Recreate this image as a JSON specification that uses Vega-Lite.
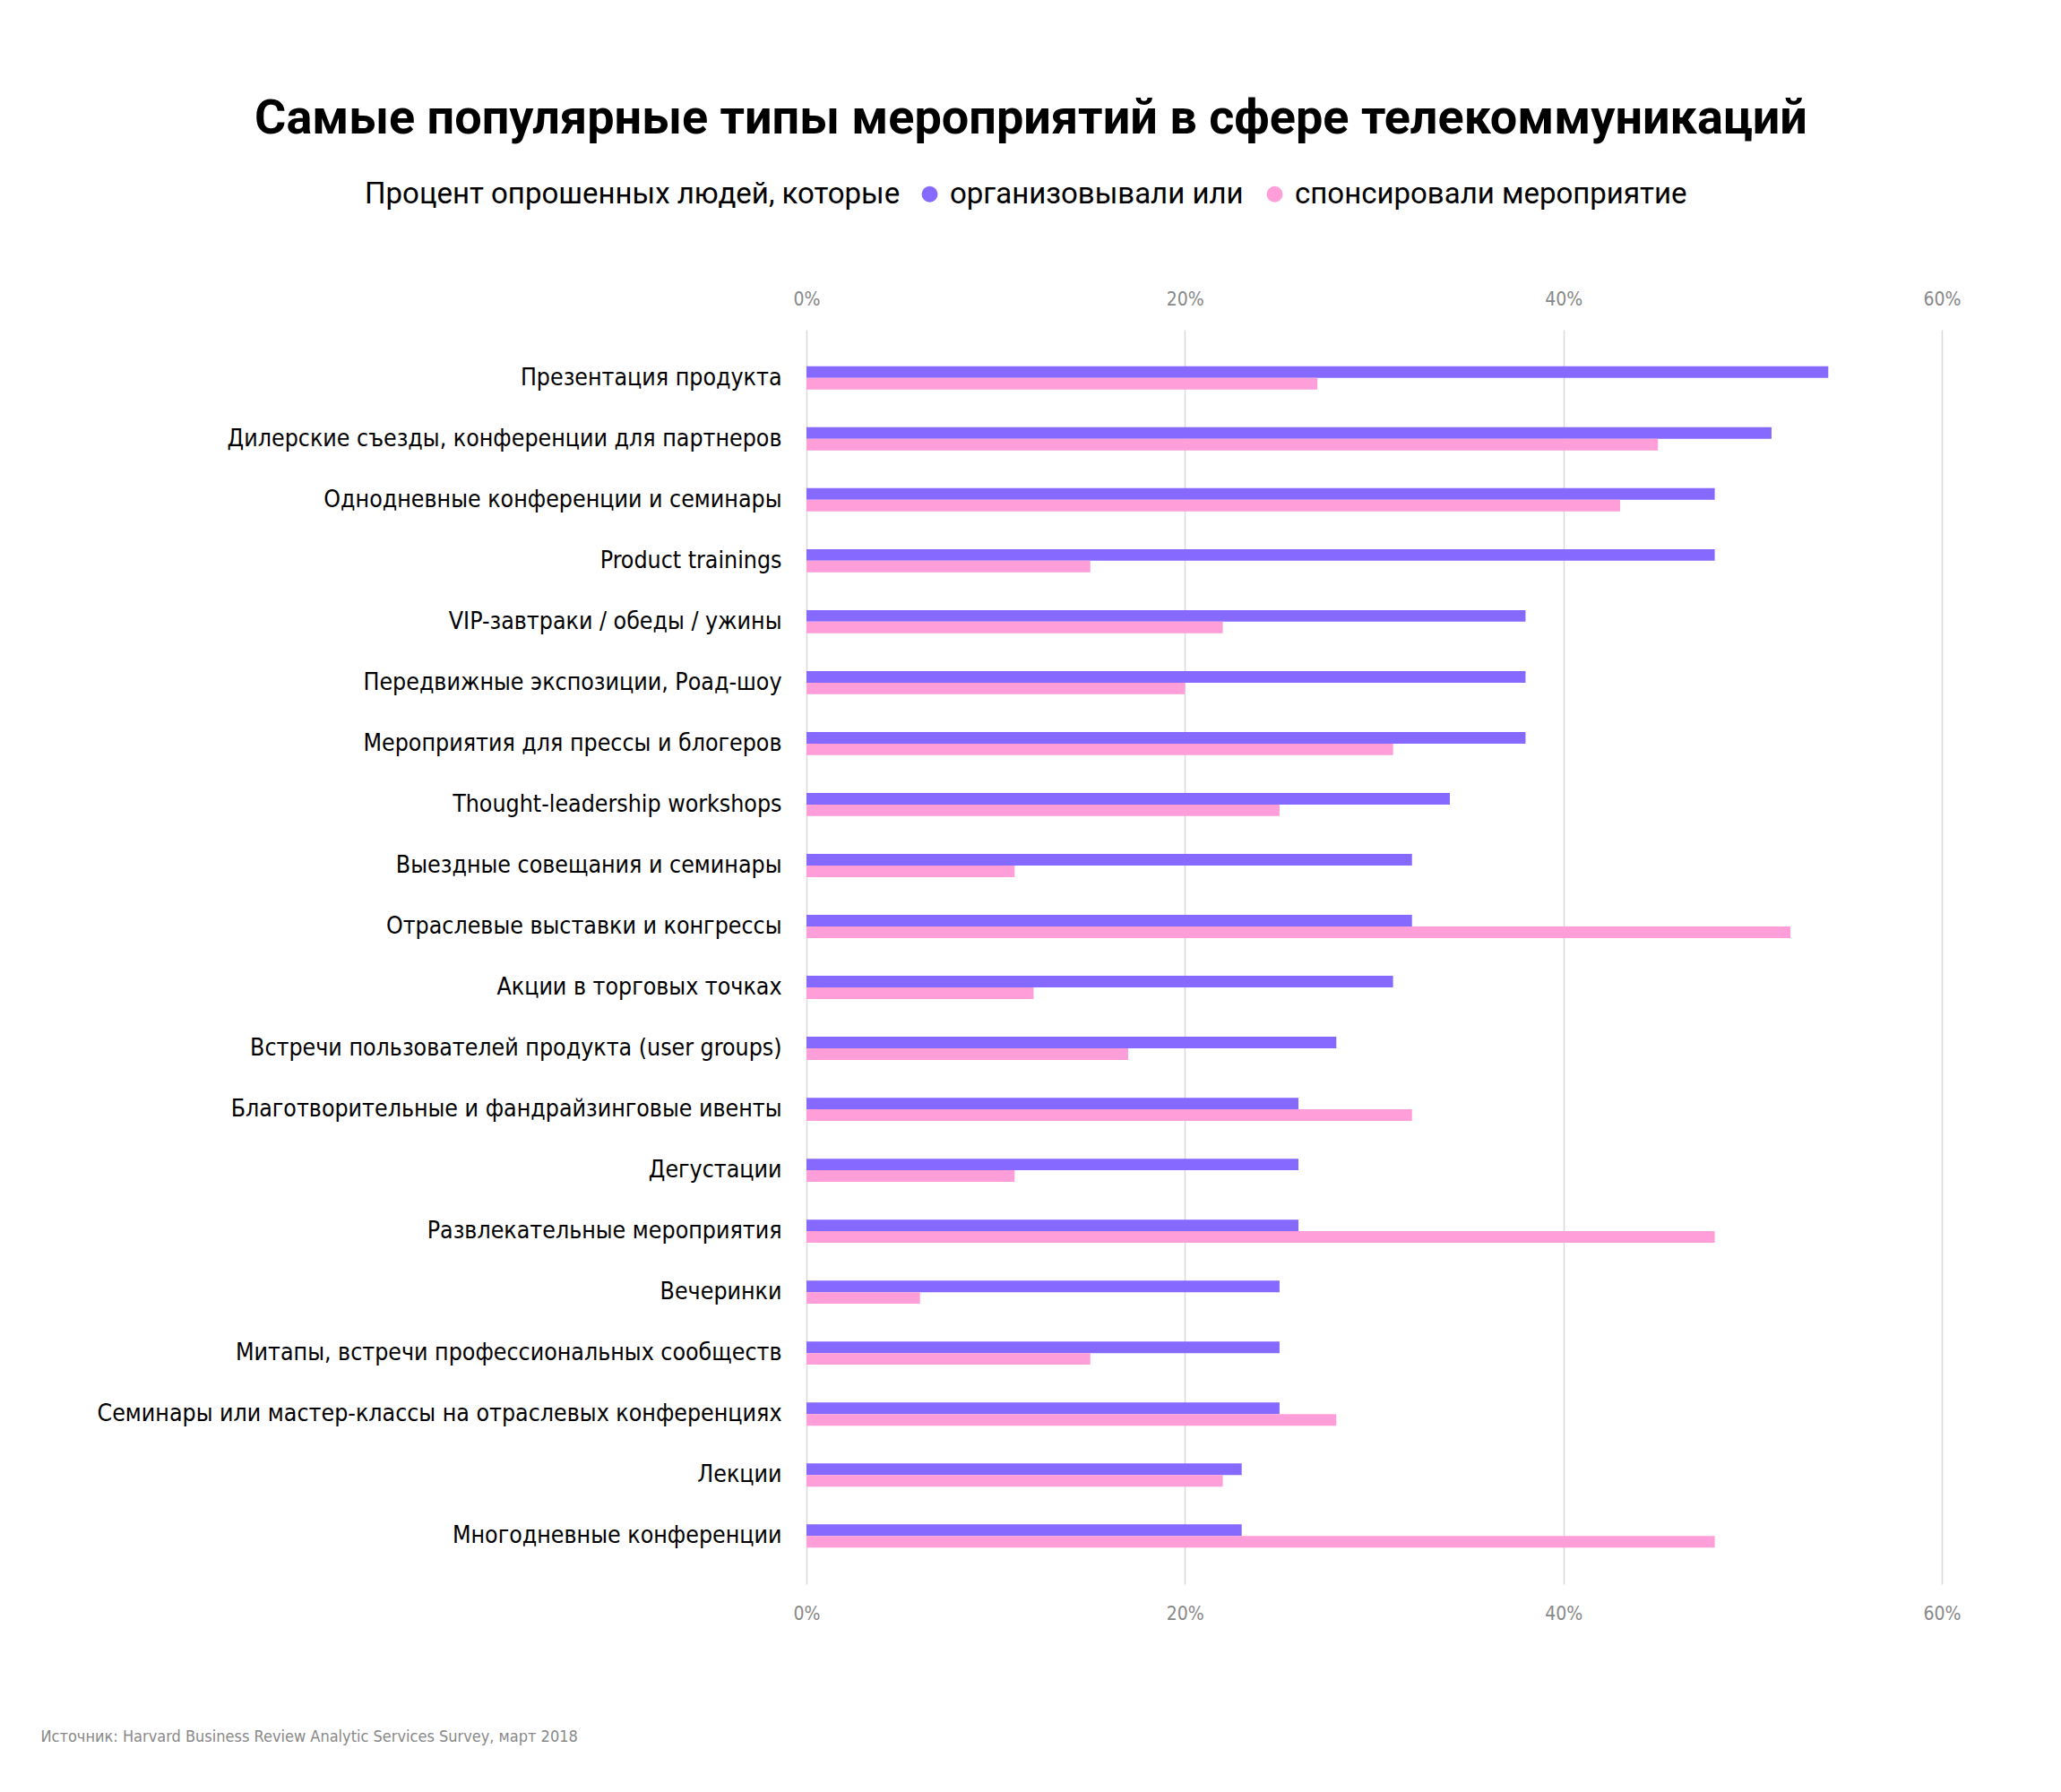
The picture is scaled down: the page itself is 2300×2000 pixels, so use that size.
{
  "$schema": "https://vega.github.io/schema/vega-lite/v6.json",
  "width": 1267,
  "height": 1400,
  "padding": {"left": 45, "top": 106, "right": 20, "bottom": 20},
  "background": "white",
  "title": {
    "text": "Самые популярные типы мероприятий в сфере телекоммуникаций",
    "anchor": "middle",
    "frame": "group",
    "dx": -383,
    "font": "Roboto",
    "fontSize": 54,
    "fontWeight": "bold",
    "color": "#000000",
    "offset": 40
  },
  "data": {
    "values": [
      {"event": "Презентация продукта", "type": "организовывали или", "value": 54},
      {"event": "Презентация продукта", "type": "спонсировали мероприятие", "value": 27},
      {"event": "Дилерские съезды, конференции для партнеров", "type": "организовывали или", "value": 51},
      {"event": "Дилерские съезды, конференции для партнеров", "type": "спонсировали мероприятие", "value": 45},
      {"event": "Однодневные конференции и семинары", "type": "организовывали или", "value": 48},
      {"event": "Однодневные конференции и семинары", "type": "спонсировали мероприятие", "value": 43},
      {"event": "Product trainings", "type": "организовывали или", "value": 48},
      {"event": "Product trainings", "type": "спонсировали мероприятие", "value": 15},
      {"event": "VIP-завтраки / обеды / ужины", "type": "организовывали или", "value": 38},
      {"event": "VIP-завтраки / обеды / ужины", "type": "спонсировали мероприятие", "value": 22},
      {"event": "Передвижные экспозиции, Роад-шоу", "type": "организовывали или", "value": 38},
      {"event": "Передвижные экспозиции, Роад-шоу", "type": "спонсировали мероприятие", "value": 20},
      {"event": "Мероприятия для прессы и блогеров", "type": "организовывали или", "value": 38},
      {"event": "Мероприятия для прессы и блогеров", "type": "спонсировали мероприятие", "value": 31},
      {"event": "Thought-leadership workshops", "type": "организовывали или", "value": 34},
      {"event": "Thought-leadership workshops", "type": "спонсировали мероприятие", "value": 25},
      {"event": "Выездные совещания и семинары", "type": "организовывали или", "value": 32},
      {"event": "Выездные совещания и семинары", "type": "спонсировали мероприятие", "value": 11},
      {"event": "Отраслевые выставки и конгрессы", "type": "организовывали или", "value": 32},
      {"event": "Отраслевые выставки и конгрессы", "type": "спонсировали мероприятие", "value": 52},
      {"event": "Акции в торговых точках", "type": "организовывали или", "value": 31},
      {"event": "Акции в торговых точках", "type": "спонсировали мероприятие", "value": 12},
      {"event": "Встречи пользователей продукта (user groups)", "type": "организовывали или", "value": 28},
      {"event": "Встречи пользователей продукта (user groups)", "type": "спонсировали мероприятие", "value": 17},
      {"event": "Благотворительные и фандрайзинговые ивенты", "type": "организовывали или", "value": 26},
      {"event": "Благотворительные и фандрайзинговые ивенты", "type": "спонсировали мероприятие", "value": 32},
      {"event": "Дегустации", "type": "организовывали или", "value": 26},
      {"event": "Дегустации", "type": "спонсировали мероприятие", "value": 11},
      {"event": "Развлекательные мероприятия", "type": "организовывали или", "value": 26},
      {"event": "Развлекательные мероприятия", "type": "спонсировали мероприятие", "value": 48},
      {"event": "Вечеринки", "type": "организовывали или", "value": 25},
      {"event": "Вечеринки", "type": "спонсировали мероприятие", "value": 6},
      {"event": "Митапы, встречи профессиональных сообществ", "type": "организовывали или", "value": 25},
      {"event": "Митапы, встречи профессиональных сообществ", "type": "спонсировали мероприятие", "value": 15},
      {"event": "Семинары или мастер-классы на отраслевых конференциях", "type": "организовывали или", "value": 25},
      {"event": "Семинары или мастер-классы на отраслевых конференциях", "type": "спонсировали мероприятие", "value": 28},
      {"event": "Лекции", "type": "организовывали или", "value": 23},
      {"event": "Лекции", "type": "спонсировали мероприятие", "value": 22},
      {"event": "Многодневные конференции", "type": "организовывали или", "value": 23},
      {"event": "Многодневные конференции", "type": "спонсировали мероприятие", "value": 48}
    ]
  },
  "encoding": {
    "y": {
      "field": "event",
      "type": "nominal",
      "sort": null,
      "scale": {"paddingInner": 0.62, "paddingOuter": 0.6},
      "axis": {
        "title": null,
        "domain": false,
        "ticks": false,
        "labelFont": "DejaVu Sans Condensed",
        "labelFontSize": 26.5,
        "labelColor": "#000000",
        "labelPadding": 28,
        "labelLimit": 1000
      }
    },
    "yOffset": {
      "field": "type",
      "type": "nominal",
      "sort": ["организовывали или", "спонсировали мероприятие"],
      "scale": {"paddingInner": 0, "paddingOuter": 0}
    },
    "color": {
      "field": "type",
      "type": "nominal",
      "scale": {
        "domain": ["организовывали или", "спонсировали мероприятие"],
        "range": ["#8669FF", "#FF9ED8"]
      },
      "legend": {
        "orient": "none",
        "legendX": -493,
        "legendY": -168,
        "direction": "horizontal",
        "title": "Процент опрошенных людей, которые",
        "titleOrient": "left",
        "titleLimit": 1000,
        "titleFont": "Roboto",
        "titleFontSize": 33,
        "titleFontWeight": "normal",
        "titleColor": "#000000",
        "titlePadding": 16,
        "labelFont": "Roboto",
        "labelFontSize": 33,
        "labelColor": "#000000",
        "labelOffset": 6,
        "labelLimit": 1000,
        "columnPadding": 18,
        "symbolType": "circle",
        "symbolSize": 324,
        "symbolStrokeWidth": 0
      }
    }
  },
  "layer": [
    {
      "mark": {"type": "bar"},
      "encoding": {
        "x": {
          "field": "value",
          "type": "quantitative",
          "scale": {"domain": [0, 60]},
          "axis": {
            "orient": "top",
            "title": null,
            "values": [0, 20, 40, 60],
            "labelExpr": "datum.value + '%'",
            "labelFlush": false,
            "domain": false,
            "ticks": false,
            "grid": true,
            "gridColor": "#d9d9d9",
            "gridWidth": 1.5,
            "labelFont": "DejaVu Sans Condensed",
            "labelFontSize": 21,
            "labelColor": "#888888",
            "labelPadding": 24
          }
        }
      }
    },
    {
      "mark": {"type": "bar", "opacity": 0},
      "encoding": {
        "x": {
          "field": "value",
          "type": "quantitative",
          "scale": {"domain": [0, 60]},
          "axis": {
            "orient": "bottom",
            "values": [0, 20, 40, 60],
            "labelExpr": "datum.value + '%'",
            "labelFlush": false,
            "domain": false,
            "ticks": false,
            "grid": false,
            "labelFont": "DejaVu Sans Condensed",
            "labelFontSize": 21,
            "labelColor": "#888888",
            "labelPadding": 22,
            "title": "Источник: Harvard Business Review Analytic Services Survey, март 2018",
            "titleFont": "DejaVu Sans Condensed",
            "titleFontSize": 18,
            "titleFontWeight": "normal",
            "titleColor": "#888888",
            "titleAnchor": "start",
            "titleAlign": "left",
            "titleBaseline": "middle",
            "titleX": -855,
            "titleY": 170
          }
        }
      }
    }
  ],
  "resolve": {"axis": {"x": "independent"}},
  "config": {
    "view": {"stroke": null}
  }
}
